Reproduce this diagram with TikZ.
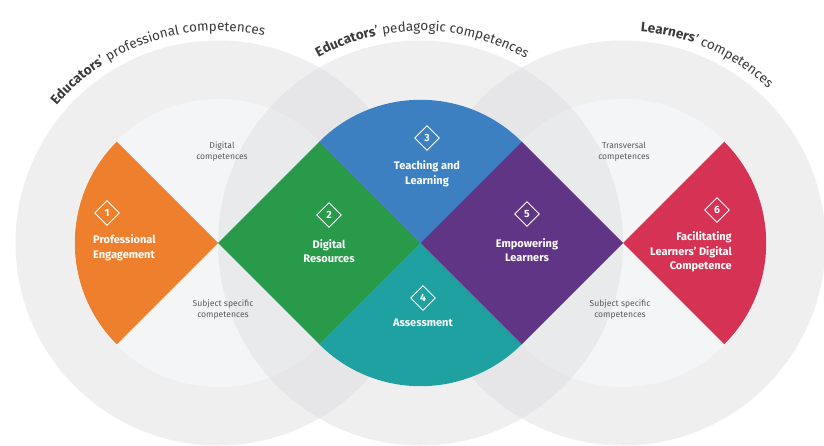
\documentclass[tikz,border=0pt]{standalone}
\usepackage{fontspec}
\setmainfont{Fira Sans}
\usetikzlibrary{shapes.geometric,decorations.text}
\definecolor{ringc}{HTML}{DDDDDF}
\definecolor{innerc}{HTML}{F4F5F7}
\definecolor{cOrange}{HTML}{EE7F2D}
\definecolor{cGreen}{HTML}{29994A}
\definecolor{cBlue}{HTML}{3D80C2}
\definecolor{cTeal}{HTML}{1FA1A1}
\definecolor{cPurple}{HTML}{613586}
\definecolor{cRed}{HTML}{D53254}
\definecolor{titlec}{HTML}{3A3A3A}
\definecolor{smallc}{HTML}{5A5A5A}
\newcommand\mytitlefont{\fontsize{13.5}{16}\selectfont}
\begin{document}
\begin{tikzpicture}[x=1pt,y=1pt,
  ring/.style={fill=ringc, fill opacity=0.45},
  innerdisk/.style={fill=innerc},
  numbox/.style={diamond, draw=white, line width=0.9pt, minimum width=25pt, minimum height=25pt, inner sep=0pt, text=white, font=\fontsize{10.5}{12}\selectfont\bfseries},
  area/.style={text=white, font=\fontsize{11}{14.5}\selectfont\bfseries, align=center, inner sep=0pt},
  small/.style={text=smallc, font=\fontsize{8.6}{11}\selectfont, align=center, inner sep=0pt},
  titlepath/.style={decorate, decoration={text along path, text align=center, text color=titlec, text={#1}}}
]
\useasboundingbox (0,0) rectangle (824,445);
\clip (0,0) rectangle (824,445);
\fill[white] (0,0) rectangle (824,445);
\coordinate (A) at (218,202);
\coordinate (B) at (420.5,202);
\coordinate (C) at (623,202);
\coordinate (GT) at (319.25,303.25);
\coordinate (GB) at (319.25,100.75);
\coordinate (PT) at (521.75,303.25);
\coordinate (PB) at (521.75,100.75);
% grey circles
\fill[ring] (A) circle[radius=202.5pt];
\fill[innerdisk] (A) circle[radius=144pt];
\fill[ring] (C) circle[radius=202.5pt];
\fill[innerdisk] (C) circle[radius=144pt];
\fill[ring] (B) circle[radius=202.5pt];
% coloured areas
\fill[cOrange] (A) -- ++(135:143.2pt) arc[start angle=135, end angle=225, radius=143.2pt] -- cycle;
\fill[cGreen] (A) -- (GT) -- (B) -- (GB) -- cycle;
\fill[cBlue] (B) -- ++(45:143.2pt) arc[start angle=45, end angle=135, radius=143.2pt] -- cycle;
\fill[cTeal] (B) -- ++(225:143.2pt) arc[start angle=225, end angle=315, radius=143.2pt] -- cycle;
\fill[cPurple] (B) -- (PT) -- (C) -- (PB) -- cycle;
\fill[cRed] (C) -- ++(-45:143.2pt) arc[start angle=-45, end angle=45, radius=143.2pt] -- cycle;
% titles
\path[titlepath={|\mytitlefont\bfseries|Educators|\mytitlefont\mdseries|’ professional competences}]
  (A) ++(165:212pt) arc[start angle=165, end angle=52, radius=212pt];
\path[titlepath={|\mytitlefont\bfseries|Educators|\mytitlefont\mdseries|’ pedagogic competences}]
  (B) ++(146:212pt) arc[start angle=146, end angle=33, radius=212pt];
\path[titlepath={|\mytitlefont\bfseries|Learners|\mytitlefont\mdseries|’ competences}]
  (C) ++(123:212pt) arc[start angle=123, end angle=9, radius=212pt];
% numbered labels
\node[numbox] (n1) at (107,232) {1};
\node[area, align=left, anchor=west] (t1) at (93,197) {Professional\\Engagement};
\node[numbox] (n2) at (329,230) {2};
\node[area] (t2) at (329,194) {Digital\\Resources};
\node[numbox] (n3) at (427,307) {3};
\node[area] (t3) at (427,271) {Teaching and\\Learning};
\node[numbox] (n4) at (423,147) {4};
\node[area] (t4) at (423,122) {Assessment};
\node[numbox] (n5) at (527,231) {5};
\node[area] (t5) at (527,195) {Empowering\\Learners};
\node[numbox] (n6) at (717,235) {6};
\node[area, align=right, anchor=east] (t6) at (732,193) {Facilitating\\Learners’ Digital\\Competence};
% small grey labels
\node[small] (s1) at (222,293) {Digital\\competences};
\node[small] (s2) at (223,135) {Subject specific\\competences};
\node[small] (s3) at (624,293) {Transversal\\competences};
\node[small] (s4) at (620,135) {Subject specific\\competences};
\end{tikzpicture}
\end{document}
